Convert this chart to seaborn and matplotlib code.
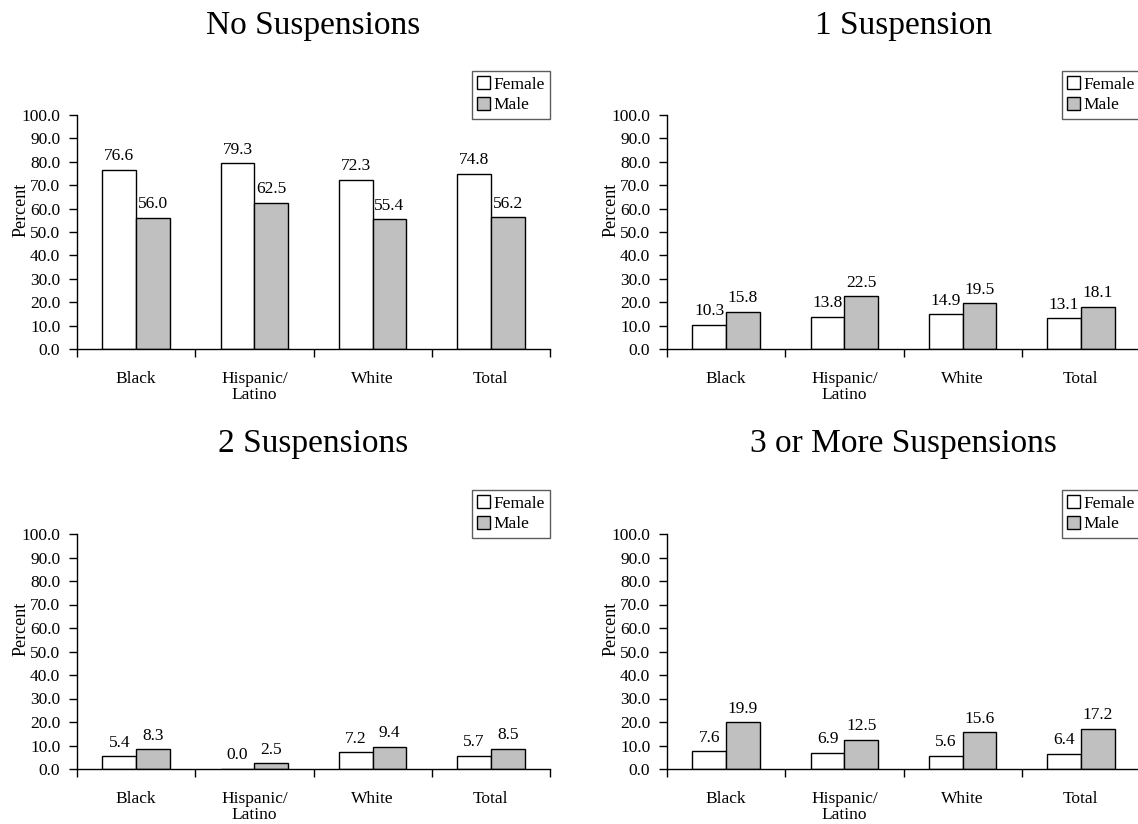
import numpy as np
import pandas as pd
import matplotlib
matplotlib.use("Agg")
import matplotlib.pyplot as plt
import seaborn as sns

groups = ["Black", "Hispanic/\nLatino", "White", "Total"]
sexes = ["Female", "Male"]
titles = ["No Suspensions", "1 Suspension", "2 Suspensions", "3 or More Suspensions"]

none_female = [76.6, 79.3, 72.3, 74.8]
none_male = [56.0, 62.5, 55.4, 56.2]
one_female = [10.3, 13.8, 14.9, 13.1]
one_male = [15.8, 22.5, 19.5, 18.1]
two_female = [5.4, 0.0, 7.2, 5.7]
two_male = [8.3, 2.5, 9.4, 8.5]
three_female = [7.6, 6.9, 5.6, 6.4]
three_male = [19.9, 12.5, 15.6, 17.2]

panels = [
    (none_female, none_male),
    (one_female, one_male),
    (two_female, two_male),
    (three_female, three_male),
]

sns.set_theme(style="white")
plt.rcParams["font.family"] = ["Liberation Serif", "DejaVu Serif"]
plt.rcParams["text.color"] = "black"
plt.rcParams["axes.labelcolor"] = "black"
plt.rcParams["xtick.color"] = "black"
plt.rcParams["ytick.color"] = "black"

W, H = 1138, 824
fig = plt.figure(figsize=(W / 100, H / 100), dpi=100)

# axes boxes in pixels: left, top(y=100), right, bottom(y=0), title centre y
boxes = [
    (77, 115, 550, 349, 22),
    (667, 115, 1140, 349, 22),
    (77, 534, 550, 769, 440),
    (667, 534, 1140, 769, 440),
]

palette = {"Female": "white", "Male": "#C0C0C0"}

for (fem, mal), title, (l, t, r, b, ty) in zip(panels, titles, boxes):
    ax = fig.add_axes([l / W, 1 - b / H, (r - l) / W, (b - t) / H])
    df = pd.DataFrame({
        "Group": groups * 2,
        "Sex": ["Female"] * 4 + ["Male"] * 4,
        "Percent": fem + mal,
    })
    sns.barplot(data=df, x="Group", y="Percent", hue="Sex", hue_order=sexes,
                palette=palette, edgecolor="black", linewidth=1.0,
                width=0.57, ax=ax, legend=False)
    for cont in ax.containers:
        ax.bar_label(cont, fmt="%.1f", padding=4, fontsize=12.5)

    ax.set_ylim(0, 100)
    ax.set_xlim(-0.5, 3.5)
    ax.set_yticks(np.arange(0, 101, 10))
    ax.set_yticklabels([f"{v:.1f}" for v in np.arange(0, 101, 10)], fontsize=12.5)
    ax.set_xticks([-0.5, 0.5, 1.5, 2.5, 3.5])
    ax.set_xticklabels([])
    ax.set_xticks(range(4), minor=True)
    ax.set_xticklabels(groups, minor=True, fontsize=12.5, linespacing=1.0)
    ax.tick_params(axis="x", which="minor", length=0, pad=16)
    ax.tick_params(axis="both", which="major", direction="out", length=6,
                   width=1, bottom=True, left=True)
    ax.tick_params(axis="y", pad=6)
    for s in ["top", "right"]:
        ax.spines[s].set_visible(False)
    for s in ["left", "bottom"]:
        ax.spines[s].set_color("black")
        ax.spines[s].set_linewidth(1)

    ax.set_xlabel("")
    ax.set_ylabel("Percent", fontsize=13)
    ax.yaxis.set_label_coords(-0.10, (b - (t + 95)) / (b - t))
    ax.set_title(title, fontsize=24, pad=0, y=1 + (t - ty - 4) / (b - t), va="center")

    handles = [c.patches[0] for c in ax.containers]
    leg = ax.legend(handles, sexes, loc="upper right",
                    bbox_to_anchor=(1.0, (b - (t - 44)) / (b - t)),
                    borderaxespad=0, fontsize=12.5, frameon=True,
                    fancybox=False, handlelength=0.75, handleheight=0.75,
                    handletextpad=0.2, borderpad=0.3, labelspacing=0.25)
    leg.get_frame().set_edgecolor("#333333")
    leg.get_frame().set_linewidth(1)

fig.savefig("out.png", dpi=100)
